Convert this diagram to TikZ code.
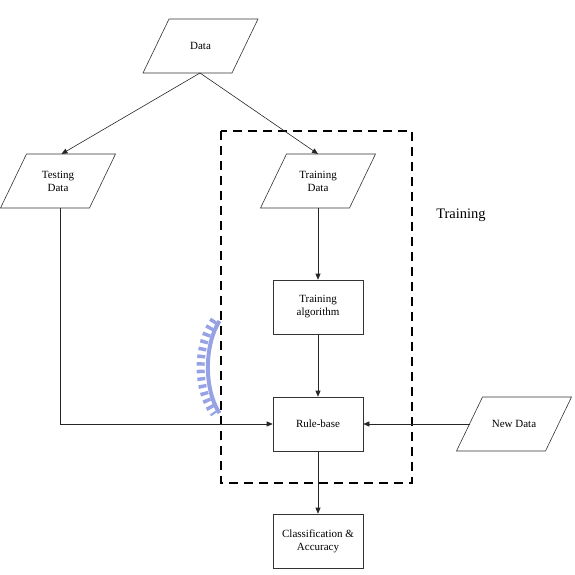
\documentclass[tikz,border=0pt]{standalone}
\usepackage{fontspec}
\setmainfont{Liberation Serif}
\usetikzlibrary{calc,arrows.meta}
\definecolor{arcblue}{RGB}{150,162,228}
\tikzset{
  conn/.style={draw=black!85, line width=0.6pt, -{Triangle[length=6pt,width=5pt]}},
  plain/.style={draw=black!85, line width=0.6pt},
  boxnode/.style={draw=black!80, line width=0.6pt, minimum width=90pt, minimum height=54pt, inner sep=0pt, align=center, font=\fontsize{11}{13}\selectfont},
  txt/.style={inner sep=0pt, align=center, font=\fontsize{11}{13}\selectfont},
  shapeline/.style={draw=black!80, line width=0.6pt},
  trainbox/.style={draw=black, line width=1.5pt, dash pattern=on 9pt off 6pt}
}
\newcommand{\drawpara}[1]{\draw[shapeline] ($(#1)+(-31.5,-27)$) -- ($(#1)+(57.5,-27)$) -- ($(#1)+(31.5,27)$) -- ($(#1)+(-57.5,27)$) -- cycle;}
\begin{document}
\begin{tikzpicture}[x=1pt,y=-1pt]
\useasboundingbox (0,0) rectangle (574,575);
% blue comb arc
\draw[arcblue, line width=8pt, dash pattern=on 3.5pt off 4pt] (214.5,320) .. controls (196,345) and (196,390) .. (214.5,414);
\draw[arcblue, line width=4pt] (219.5,321) .. controls (204,345) and (204,390) .. (219.5,413);
% dashed training region
\draw[trainbox] (221,131) rectangle (412,483);
\node[txt, font=\fontsize{14.5}{16}\selectfont] (trlabel) at (461,215) {Training};
% parallelogram nodes
\node[txt] (data) at (200.5,46) {Data};
\drawpara{data}
\node[txt] (test) at (58,181) {Testing\\Data};
\drawpara{test}
\node[txt] (trd) at (318,181) {Training\\Data};
\drawpara{trd}
\node[txt] (newd) at (514,424) {New Data};
\drawpara{newd}
% boxes
\node[boxnode] (algo) at (318,307) {Training\\algorithm};
\node[boxnode] (rule) at (318,424) {Rule-base};
\node[boxnode] (cls) at (318,541) {Classification \&\\Accuracy};
% coordinates
\coordinate (dapex) at ($(data)+(-0.5,27)$);
\coordinate (testtop) at ($(test)+(3.5,-27)$);
\coordinate (testbot) at ($(test)+(2,27)$);
\coordinate (trdtop) at ($(trd)+(0,-27)$);
\coordinate (trdbot) at ($(trd)+(0,27)$);
\coordinate (newleft) at ($(newd)+(-44,0)$);
% connectors
\draw[conn] (dapex) -- (testtop);
\draw[conn] (dapex) -- (trdtop);
\draw[conn] (trdbot) -- (algo.north);
\draw[conn] (algo.south) -- (rule.north);
\draw[conn] (testbot) |- (rule.west);
\draw[conn] (newleft) -- (rule.east);
\draw[conn] (rule.south) -- (cls.north);
\end{tikzpicture}
\end{document}
